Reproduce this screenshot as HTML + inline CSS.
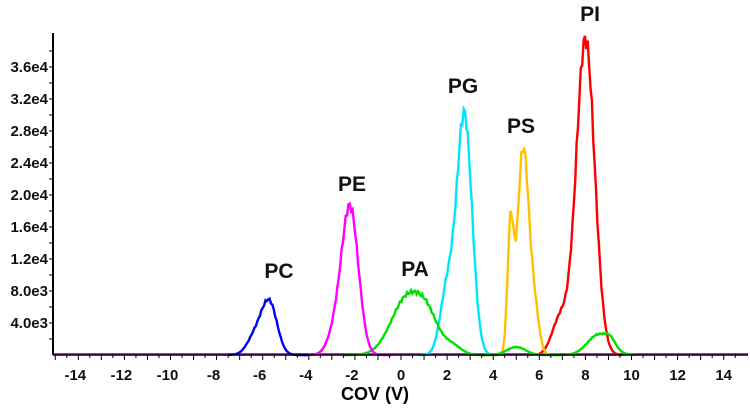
<!DOCTYPE html>
<html><head><meta charset="utf-8"><style>
body{margin:0;background:#fff}
svg{display:block;font-family:"Liberation Sans",Arial,sans-serif;font-weight:bold}
</style></head><body>
<svg id="s" width="750" height="410" viewBox="0 0 750 410">
<g id="plot"></g>
<line x1="53" y1="33" x2="53" y2="355" stroke="#000" stroke-width="2"/>
<line x1="53" y1="355" x2="748" y2="355" stroke="#000" stroke-width="1.5"/>
<g id="ax" font-size="15" fill="#111"></g>
<text x="375" y="400" font-size="18" text-anchor="middle">COV (V)</text>
<g font-size="21" text-anchor="middle" fill="#111">
<text x="279" y="278">PC</text>
<text x="352" y="191">PE</text>
<text x="415" y="276">PA</text>
<text x="463" y="93">PG</text>
<text x="521" y="133">PS</text>
<text x="590" y="21">PI</text>
</g>
</svg>
<script>
var X=function(v){return 401+23.05*v},Y=function(c){return 355-c*0.008};
var ax=document.getElementById('ax'),h='';
for(var v=-15;v<=14.6;v+=0.5){var x=X(v);h+='<line x1="'+x+'" y1="355" x2="'+x+'" y2="'+(v%1==0?360:358)+'" stroke="#000" stroke-width="1"/>';}
for(var v=-14;v<=14;v+=2){h+='<text x="'+(X(v)-(v<0?3:0))+'" y="380" text-anchor="middle">'+v+'</text>';}
for(var c=2000;c<40000;c+=2000){var y=Y(c);h+='<line x1="49" y1="'+y+'" x2="53" y2="'+y+'" stroke="#000"/>';}
var lab=['4.0e3','8.0e3','1.2e4','1.6e4','2.0e4','2.4e4','2.8e4','3.2e4','3.6e4'];
for(var i=0;i<9;i++){h+='<text x="48" y="'+(Y((i+1)*4000)+5)+'" text-anchor="end">'+lab[i]+'</text>';}
ax.innerHTML=h;
function g(v,m,s,a){return a*Math.exp(-(v-m)*(v-m)/(2*s*s));}
var S=[
['#ff0000',function(v){return g(v,8,0.4,39500)+g(v,6.9,0.35,4500)+g(v,0.5,0.6,400)},6,9.6],
['#ffc000',function(v){return g(v,5.3,0.25,25800)+g(v,4.75,0.13,15500)+g(v,5.8,0.2,5000)},3.6,6.8],
['#00e5ff',function(v){return g(v,2.75,0.33,30000)+g(v,2.0,0.3,8000)},0.8,4.2],
['#00e000',function(v){return g(v,0.3,0.7,7300)+g(v,1.2,0.45,3000)+g(v,2.2,0.4,1200)+g(v,5,0.4,1000)+g(v,8.6,0.5,2600)+g(v,9.1,0.2,800)},-2.5,10.2],
['#ff00ff',function(v){return g(v,-2.2,0.36,18000)+g(v,-2.8,0.35,3000)},-4.2,-0.4],
['#0000ff',function(v){return g(v,-5.7,0.33,6300)+g(v,-6.3,0.35,2500)},-7.5,-4]];
var p='';
p+='<line x1="53" y1="354" x2="748" y2="354" stroke="#ff00ff" stroke-width="2"/>';
S.forEach(function(s){var d='',k=0;for(var v=s[2];v<=s[3];v+=0.06){k++;var c=s[1](v);c*=1+0.03*Math.sin(k*2.3);d+=(d?'L':'M')+X(v).toFixed(1)+','+Y(c).toFixed(1);}
p+='<path d="'+d+'" fill="none" stroke="'+s[0]+'" stroke-width="2.4"/>';});
document.getElementById('plot').innerHTML=p;
</script>
</body></html>
